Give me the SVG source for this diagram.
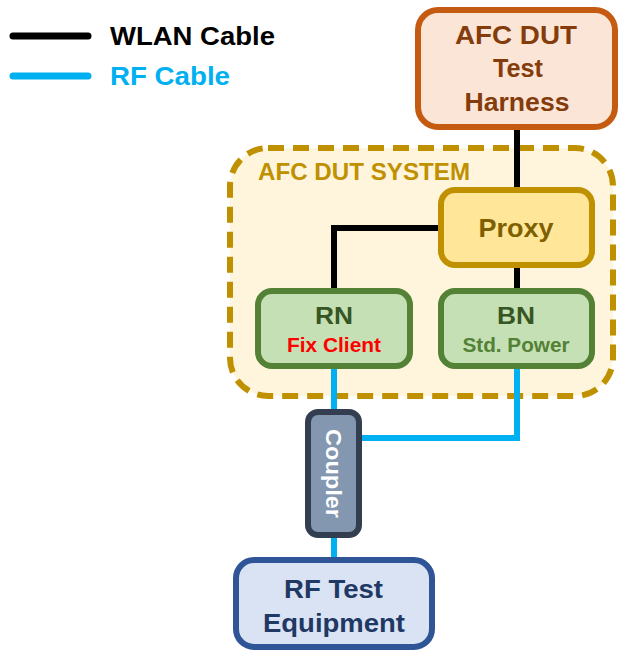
<svg xmlns="http://www.w3.org/2000/svg" width="620" height="653" viewBox="0 0 620 653">
<style>
text{font-family:"Liberation Sans",Arial,sans-serif;font-weight:bold;text-anchor:middle}
.wl{stroke:#000;stroke-width:6;fill:none}
.rf{stroke:#00b0f0;stroke-width:6;fill:none}
.box{stroke-width:6}
</style>
<rect width="620" height="653" fill="#fff"/>
<g id="legend">
<line x1="13" y1="36" x2="88" y2="36" stroke="#000" stroke-width="7" stroke-linecap="round"/>
<text x="110" y="45" font-size="25" fill="#000" style="text-anchor:start" textLength="165" lengthAdjust="spacingAndGlyphs">WLAN Cable</text>
<line x1="13" y1="76" x2="88" y2="76" stroke="#00b0f0" stroke-width="7" stroke-linecap="round"/>
<text x="110" y="85" font-size="25" fill="#00b0f0" style="text-anchor:start" textLength="120" lengthAdjust="spacingAndGlyphs">RF Cable</text>
</g>
<g id="system">
<rect x="230" y="148" width="383" height="248" rx="38" fill="#fff5dc" stroke="#bf9000" stroke-width="6" stroke-dasharray="16 9"/>
<text x="258" y="180" font-size="23" fill="#bf9000" style="text-anchor:start" textLength="212" lengthAdjust="spacingAndGlyphs">AFC DUT SYSTEM</text>
</g>
<g id="connectors">
<path class="wl" d="M517 127V190"/>
<path class="wl" d="M441 228H334V291"/>
<path class="wl" d="M517 265V291"/>
<path class="rf" d="M334 366V412"/>
<path class="rf" d="M517 366V438H359"/>
<path class="rf" d="M334 535V560"/>
</g>
<g id="harness">
<rect class="box" x="418" y="10" width="197" height="117" rx="20" fill="#fbe5d6" stroke="#c55a11"/>
<text font-size="25" fill="#843c0c"><tspan x="516" y="44" textLength="122" lengthAdjust="spacingAndGlyphs">AFC DUT</tspan></text>
<text font-size="25" fill="#843c0c"><tspan x="518" y="77" textLength="50" lengthAdjust="spacingAndGlyphs">Test</tspan></text>
<text font-size="25" fill="#843c0c"><tspan x="517" y="111" textLength="105" lengthAdjust="spacingAndGlyphs">Harness</tspan></text>
</g>
<g id="proxy">
<rect class="box" x="441" y="190" width="151" height="75" rx="14" fill="#ffe699" stroke="#bf9000"/>
<text x="516" y="237" font-size="26" fill="#7f6000" textLength="75" lengthAdjust="spacingAndGlyphs">Proxy</text>
</g>
<g id="rn">
<rect class="box" x="258" y="291" width="152" height="75" rx="14" fill="#c5e0b4" stroke="#538135"/>
<text x="334" y="324" font-size="24" fill="#375623" textLength="38" lengthAdjust="spacingAndGlyphs">RN</text>
<text x="334" y="352" font-size="20" fill="#ff0000" textLength="94" lengthAdjust="spacingAndGlyphs">Fix Client</text>
</g>
<g id="bn">
<rect class="box" x="441" y="291" width="151" height="75" rx="14" fill="#c5e0b4" stroke="#538135"/>
<text x="516" y="324" font-size="24" fill="#375623" textLength="38" lengthAdjust="spacingAndGlyphs">BN</text>
<text x="516" y="352" font-size="20" fill="#538135" textLength="107" lengthAdjust="spacingAndGlyphs">Std. Power</text>
</g>
<g id="coupler">
<rect class="box" x="308" y="412" width="51" height="123" rx="10" fill="#8497b0" stroke="#333f50"/>
<text transform="translate(333,473.5) rotate(90)" y="7" font-size="22" fill="#fff" textLength="89" lengthAdjust="spacingAndGlyphs">Coupler</text>
</g>
<g id="rfequip">
<rect class="box" x="236" y="560" width="196" height="87" rx="18" fill="#dae3f3" stroke="#2f5597"/>
<text font-size="25" fill="#1f3864"><tspan x="333.5" y="598" textLength="99" lengthAdjust="spacingAndGlyphs">RF Test</tspan></text>
<text font-size="25" fill="#1f3864"><tspan x="334" y="632" textLength="142" lengthAdjust="spacingAndGlyphs">Equipment</tspan></text>
</g>
</svg>
